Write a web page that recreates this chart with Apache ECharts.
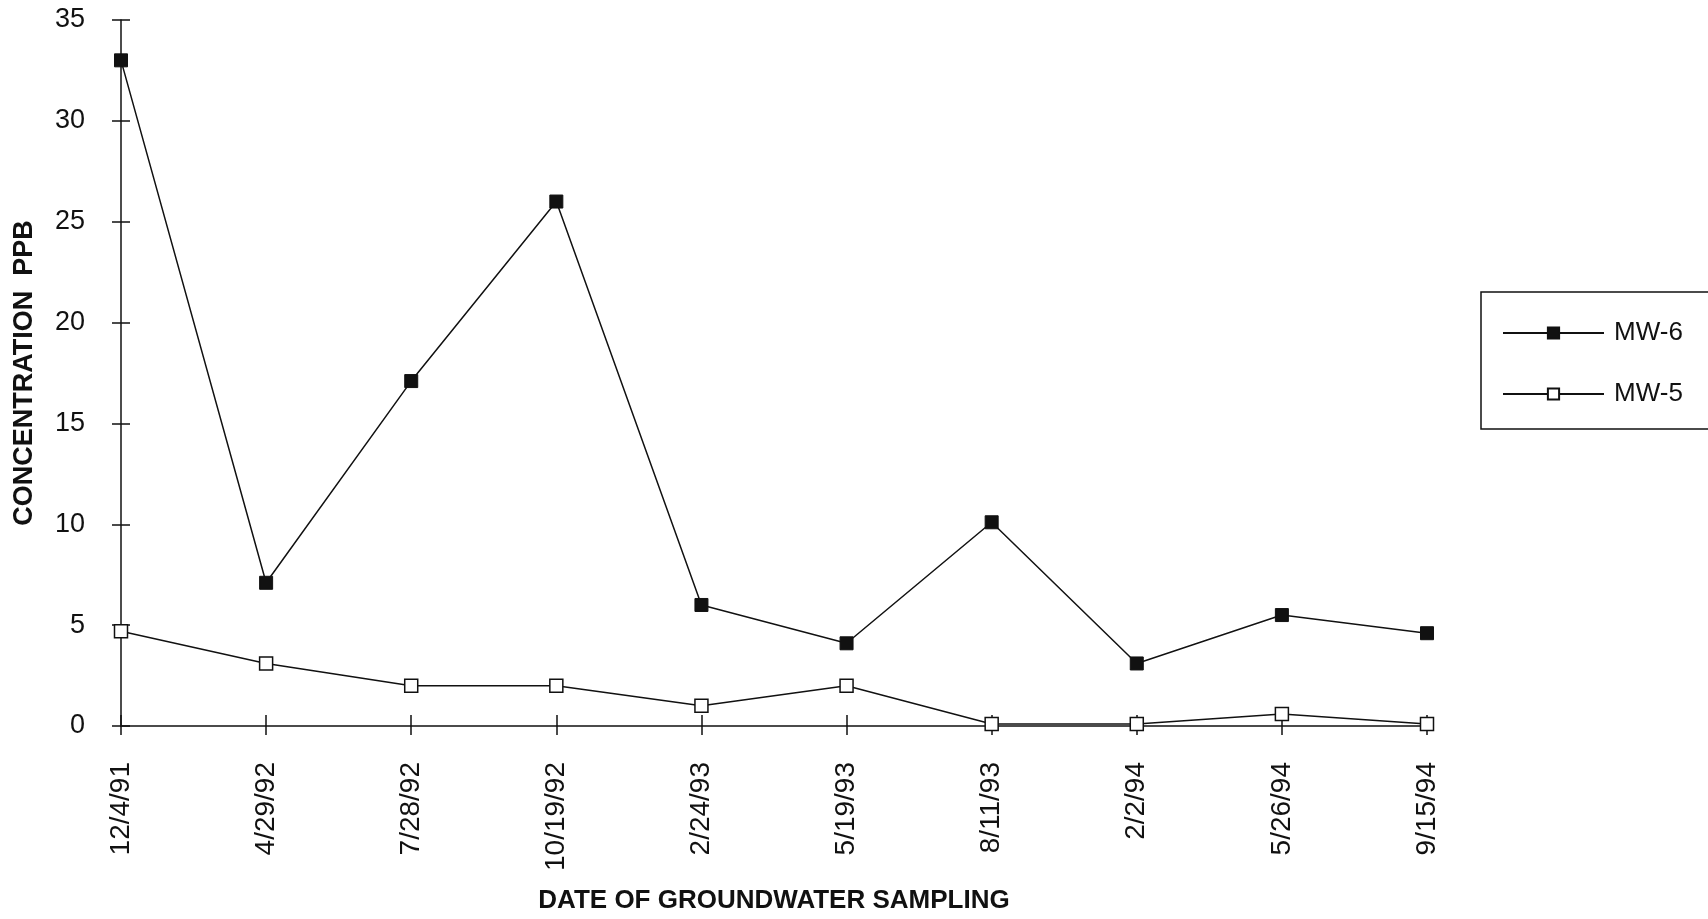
<!DOCTYPE html>
<html>
<head>
<meta charset="utf-8">
<title>Concentration PPB by sampling date</title>
<script src="https://cdn.jsdelivr.net/npm/echarts@6/dist/echarts.min.js"></script>
<style>
  html, body { margin: 0; padding: 0; background: #fff; }
  #chart { width: 1708px; height: 919px; }
</style>
</head>
<body>
<div id="chart"></div>
<script>
// Sampling dates (category axis)
const dates = ['12/4/91', '4/29/92', '7/28/92', '10/19/92', '2/24/93', '5/19/93', '8/11/93', '2/2/94', '5/26/94', '9/15/94'];
// Concentrations in PPB for each monitoring well
const mw6 = [33.0, 7.1, 17.1, 26.0, 6.0, 4.1, 10.1, 3.1, 5.5, 4.6];
const mw5 = [4.7, 3.1, 2.0, 2.0, 1.0, 2.0, 0.1, 0.1, 0.6, 0.1];
// Value axis range
const yMin = 0;
const yMax = 35;
const yStep = 5;

const FONT = 'Liberation Sans';
const INK = '#111';

const chart = echarts.init(document.getElementById('chart'), null, { renderer: 'canvas' });

const tickStyle = { color: INK, width: 1.5 };

chart.setOption({
  backgroundColor: '#fff',
  animation: false,
  textStyle: { fontFamily: FONT, color: INK },
  grid: { left: 121, right: 281, top: 20, bottom: 191, containLabel: false },
  legend: {
    data: ['MW-6', 'MW-5'],
    orient: 'vertical',
    left: 1481,
    top: 292,
    itemWidth: 101,
    itemHeight: 14,
    itemGap: 35,
    padding: [28, 80, 22, 21],
    borderColor: INK,
    borderWidth: 1.5,
    textStyle: { fontFamily: FONT, fontSize: 26, color: INK, padding: [0, 0, 0, 5] }
  },
  xAxis: [
    {
      type: 'category',
      data: dates,
      boundaryGap: false,
      position: 'bottom',
      name: 'DATE OF GROUNDWATER SAMPLING',
      nameLocation: 'middle',
      nameGap: 162,
      nameTextStyle: { fontFamily: FONT, fontSize: 26, fontWeight: 'bold', color: INK },
      axisLine: { show: true, onZero: false, lineStyle: { color: INK, width: 1.5 } },
      axisTick: { show: true, alignWithLabel: true, length: 9, inside: false, lineStyle: tickStyle },
      axisLabel: { rotate: 90, margin: 36, fontFamily: FONT, fontSize: 28, color: INK },
      splitLine: { show: false }
    },
    {
      type: 'category',
      data: dates,
      boundaryGap: false,
      position: 'bottom',
      axisLine: { show: false },
      axisTick: { show: true, length: 11, inside: true, lineStyle: tickStyle },
      axisLabel: { show: false },
      splitLine: { show: false }
    }
  ],
  yAxis: [
    {
      type: 'value',
      min: yMin,
      max: yMax,
      interval: yStep,
      position: 'left',
      name: 'CONCENTRATION  PPB',
      nameLocation: 'middle',
      nameGap: 83,
      nameTextStyle: { fontFamily: FONT, fontSize: 27, fontWeight: 'bold', color: INK },
      axisLine: { show: true, lineStyle: { color: INK, width: 1.5 } },
      axisTick: { show: true, length: 9, inside: false, lineStyle: tickStyle },
      axisLabel: { margin: 36, fontFamily: FONT, fontSize: 27, color: INK },
      splitLine: { show: false }
    },
    {
      type: 'value',
      min: yMin,
      max: yMax,
      interval: yStep,
      position: 'left',
      axisLine: { show: false },
      axisTick: { show: true, length: 9, inside: true, lineStyle: tickStyle },
      axisLabel: { show: false },
      splitLine: { show: false }
    }
  ],
  series: [
    {
      name: 'MW-6',
      type: 'line',
      data: mw6,
      xAxisIndex: 0,
      yAxisIndex: 0,
      symbol: 'rect',
      symbolSize: 13,
      showAllSymbol: true,
      lineStyle: { color: INK, width: 1.5 },
      itemStyle: { color: INK, borderColor: INK, borderWidth: 1 },
      z: 3
    },
    {
      name: 'MW-5',
      type: 'line',
      data: mw5,
      xAxisIndex: 0,
      yAxisIndex: 0,
      symbol: 'rect',
      symbolSize: 13,
      showAllSymbol: true,
      lineStyle: { color: INK, width: 1.5 },
      itemStyle: { color: '#fff', borderColor: INK, borderWidth: 1.5 },
      z: 4
    }
  ]
});
</script>
</body>
</html>
